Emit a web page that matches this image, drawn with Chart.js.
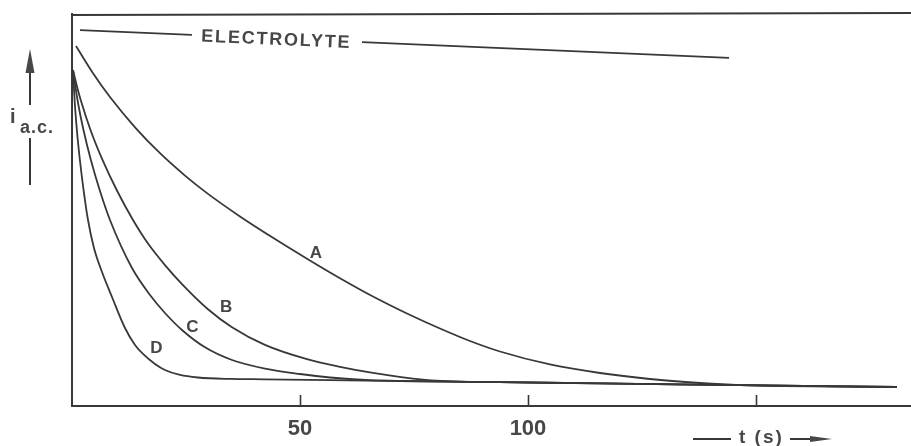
<!DOCTYPE html>
<html>
<head>
<meta charset="utf-8">
<script src="https://cdn.jsdelivr.net/npm/chart.js@4"></script>
<style>
  html, body { margin: 0; padding: 0; background: #fff; }
  canvas { display: block; }
</style>
</head>
<body>
<canvas id="chart" width="911" height="446"></canvas>
<script>
// time (s) and a.c. current (arbitrary units, 0-100)
const tA = [0.88, 4.61, 8.33, 13.82, 19.30, 24.78, 29.61, 36.84, 44.52, 51.54, 58.77, 66.01,
            73.46, 80.70, 87.28, 93.86, 104.82, 115.79, 126.75, 137.72, 146.49, 180.92];
const iA = [91.84, 84.90, 78.83, 71.10, 64.49, 58.78, 54.31, 48.37, 42.60, 37.58, 32.60, 27.93,
            23.60, 19.77, 16.58, 13.90, 10.59, 8.42, 6.89, 5.87, 5.33, 4.85];

const tB = [0.22, 1.01, 1.91, 4.06, 6.69, 9.80, 13.38, 16.67, 20.39, 24.12, 29.82, 35.09,
            42.32, 51.54, 58.77, 66.01, 76.97, 87.28, 93.86, 115.79, 146.49, 180.92];
const iB = [85.71, 81.89, 78.06, 70.41, 62.76, 55.10, 47.45, 41.43, 35.94, 31.10, 24.69, 20.10,
            15.59, 11.94, 10.00, 8.44, 6.73, 6.15, 6.07, 5.77, 5.33, 4.85];

const tC = [0.22, 1.21, 2.52, 4.14, 6.07, 8.33, 13.16, 17.11, 20.39, 24.12, 29.17, 35.09,
            42.32, 50.00, 56.58, 65.35, 71.93, 93.86, 115.79, 146.49, 180.92];
const iC = [85.71, 78.06, 70.41, 62.76, 55.10, 47.45, 35.20, 28.32, 23.72, 19.39, 14.97, 11.73,
            9.54, 8.16, 7.27, 6.58, 6.38, 6.07, 5.77, 5.33, 4.85];

const tD = [0.22, 0.57, 1.07, 1.73, 2.54, 3.51, 4.82, 6.58, 8.77, 11.62, 13.82, 15.57,
            18.20, 20.39, 23.68, 27.63, 34.65, 42.32, 56.58, 71.93, 93.86, 115.79, 146.49, 180.92];
const iD = [85.71, 78.06, 70.41, 62.76, 55.10, 47.45, 40.31, 34.18, 27.81, 19.90, 15.56, 13.27,
            10.71, 9.18, 7.91, 7.27, 6.91, 6.81, 6.61, 6.38, 6.07, 5.77, 5.33, 4.85];

// electrolyte line, broken where its label sits
const tE = [1.75, 26.3, 45, 63.6, 144.1];
const iE = [95.9, 94.7, null, 92.8, 88.8];

const curveNames = ['A', 'B', 'C', 'D'];
const nameT = [53.5, 33.8, 26.4, 18.5];
const nameI = [38.9, 25.1, 20.2, 14.7];
const electrolyteName = 'ELECTROLYTE';
const electrolyteAt = [44.8, 93.4];

const xTickValues = [50, 100, 150];
const xTickLabels = ['50', '100', ''];

const INK = '#383838';
const TEXT = '#474747';
const FONT = '"Liberation Sans", Arial, Helvetica, sans-serif';

function pts(ts, vs) {
  return ts.map((t, k) => ({ x: t, y: vs[k] }));
}

function curve(ts, vs) {
  return {
    data: pts(ts, vs),
    borderColor: INK,
    borderWidth: 1.8,
    pointRadius: 0,
    fill: false,
    cubicInterpolationMode: 'monotone'
  };
}

// frame top, inward ticks, curve names and axis captions
const decorations = {
  id: 'decorations',
  afterDraw(chart) {
    const ctx = chart.ctx;
    const area = chart.chartArea;
    const xs = chart.scales.x;
    const ys = chart.scales.y;
    ctx.save();

    // top of the frame
    ctx.strokeStyle = INK;
    ctx.lineWidth = 2;
    ctx.beginPath();
    ctx.moveTo(area.left, area.top + 1);
    ctx.lineTo(area.right, area.top - 1);
    ctx.stroke();

    // tick marks pointing into the plot
    ctx.lineWidth = 1.6;
    xTickValues.forEach(v => {
      const px = Math.round(xs.getPixelForValue(v)) + 0.5;
      ctx.beginPath();
      ctx.moveTo(px, area.bottom);
      ctx.lineTo(px, area.bottom - 11);
      ctx.stroke();
    });

    // curve names
    ctx.fillStyle = TEXT;
    ctx.font = 'bold 17px ' + FONT;
    ctx.textAlign = 'center';
    ctx.textBaseline = 'middle';
    curveNames.forEach((n, k) => {
      ctx.fillText(n, xs.getPixelForValue(nameT[k]), ys.getPixelForValue(nameI[k]));
    });

    // electrolyte label, tilted along its line
    const x1 = xs.getPixelForValue(tE[0]), y1 = ys.getPixelForValue(iE[0]);
    const x2 = xs.getPixelForValue(tE[4]), y2 = ys.getPixelForValue(iE[4]);
    ctx.save();
    ctx.translate(xs.getPixelForValue(electrolyteAt[0]), ys.getPixelForValue(electrolyteAt[1]));
    ctx.rotate(Math.atan2(y2 - y1, x2 - x1));
    ctx.font = 'bold 18px ' + FONT;
    ctx.letterSpacing = '1.8px';
    ctx.fillText(electrolyteName, 0, 0);
    ctx.restore();

    // y caption: arrow, i a.c., line
    ctx.lineWidth = 2;
    ctx.beginPath();
    ctx.moveTo(30, 105);
    ctx.lineTo(30, 70);
    ctx.moveTo(30, 138);
    ctx.lineTo(30, 185);
    ctx.stroke();
    ctx.beginPath();
    ctx.moveTo(25.5, 73);
    ctx.lineTo(34.5, 73);
    ctx.lineTo(30, 49);
    ctx.closePath();
    ctx.fill();
    ctx.textAlign = 'left';
    ctx.textBaseline = 'alphabetic';
    ctx.font = 'bold 20px ' + FONT;
    ctx.fillText('i', 10, 123);
    ctx.font = 'bold 18px ' + FONT;
    ctx.letterSpacing = '1px';
    ctx.fillText('a.c.', 20, 133);

    // x caption: —— t (s) ——>
    ctx.letterSpacing = '2px';
    ctx.font = 'bold 19px ' + FONT;
    ctx.textBaseline = 'middle';
    ctx.fillText('t (s)', 739, 438);
    ctx.beginPath();
    ctx.moveTo(693, 439);
    ctx.lineTo(731, 439);
    ctx.moveTo(790, 439);
    ctx.lineTo(815, 439);
    ctx.stroke();
    ctx.beginPath();
    ctx.moveTo(810, 436);
    ctx.lineTo(832, 439);
    ctx.lineTo(810, 442);
    ctx.closePath();
    ctx.fill();

    ctx.restore();
  }
};

new Chart(document.getElementById('chart'), {
  type: 'line',
  data: {
    datasets: [
      curve(tA, iA),
      curve(tB, iB),
      curve(tC, iC),
      curve(tD, iD),
      {
        data: pts(tE, iE),
        borderColor: INK,
        borderWidth: 1.8,
        pointRadius: 0,
        fill: false,
        spanGaps: false,
        tension: 0
      }
    ]
  },
  options: {
    responsive: false,
    devicePixelRatio: 1,
    animation: false,
    layout: { padding: { left: 72, top: 14, right: 0, bottom: 0 } },
    plugins: {
      legend: { display: false },
      tooltip: { enabled: false }
    },
    scales: {
      x: {
        type: 'linear',
        min: 0,
        max: 184,
        afterBuildTicks: scale => {
          scale.ticks = xTickValues.map(v => ({ value: v }));
        },
        afterFit: scale => { scale.height = 40; },
        grid: { display: false, drawTicks: false },
        border: { display: true, color: INK, width: 2 },
        ticks: {
          padding: 10,
          color: TEXT,
          font: { family: FONT, size: 22, weight: 'bold' },
          maxRotation: 0,
          autoSkip: false,
          callback: value => xTickLabels[xTickValues.indexOf(value)] ?? ''
        }
      },
      y: {
        type: 'linear',
        min: 0,
        max: 100,
        afterFit: scale => { scale.width = 0; },
        grid: { display: false, drawTicks: false },
        border: { display: true, color: INK, width: 2 },
        ticks: { display: false }
      }
    }
  },
  plugins: [decorations]
});
</script>
</body>
</html>
